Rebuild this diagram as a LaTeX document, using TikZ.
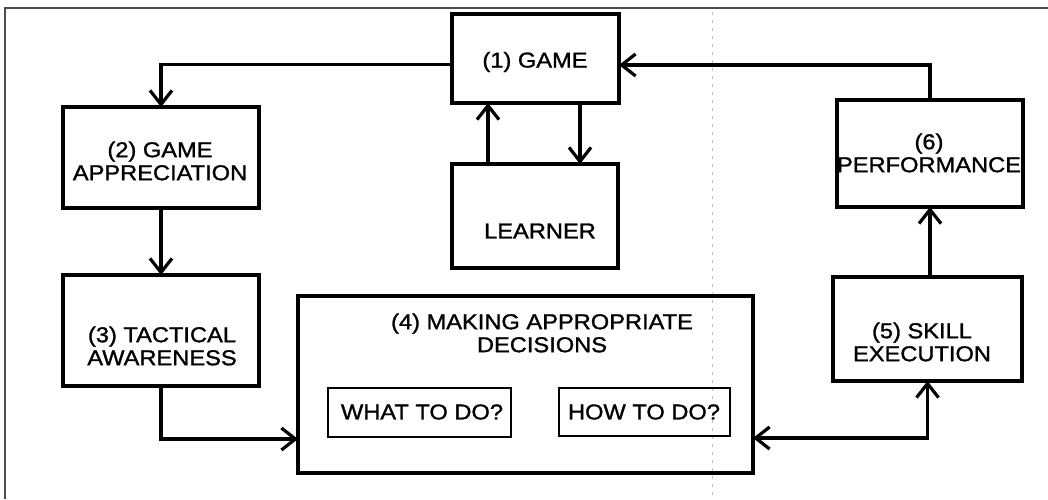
\documentclass[tikz,border=0pt]{standalone}
\usepackage{fontspec}
\setmainfont{Liberation Sans}[FakeStretch=1.1,FakeBold=1.3]
\usetikzlibrary{arrows.meta,calc}
\begin{document}
\begin{tikzpicture}[x=1pt,y=-1pt,
  box/.style={draw, line width=3.2pt, inner sep=0pt, outer sep=0pt},
  sbox/.style={draw, line width=2.8pt, inner sep=0pt, outer sep=0pt},
  txt/.style={font=\fontsize{21.5}{23}\selectfont, align=center, inner sep=0pt},
  arr/.style={line width=3.2pt, -{Straight Barb[length=14pt,width=22pt]}},
  darr/.style={line width=3.2pt, {Straight Barb[length=14pt,width=22pt]}-{Straight Barb[length=14pt,width=22pt]}}]
\useasboundingbox (0,0) rectangle (1048,499);
% frame
\draw[line width=1.4pt, black!70] (5,499) -- (5,8) -- (1048,8);
\draw[line width=0.6pt, black!25, dash pattern=on 3pt off 5pt] (712,12) -- (712,499);
% boxes
\node[box, minimum width=167pt, minimum height=89pt] (g1) at (535.5,58.5) {};
\node[box, minimum width=166pt, minimum height=104pt] (L) at (535,216) {};
\node[box, minimum width=196pt, minimum height=101pt] (g2) at (161,157.5) {};
\node[box, minimum width=196pt, minimum height=111pt] (g3) at (161,330.5) {};
\node[box, minimum width=455pt, minimum height=177pt] (g4) at (525.5,384.5) {};
\node[sbox, minimum width=183pt, minimum height=49pt] (what) at (419.5,412.5) {};
\node[sbox, minimum width=171pt, minimum height=48pt] (how) at (644.5,412) {};
\node[box, minimum width=189pt, minimum height=104pt] (g5) at (927.5,329) {};
\node[box, minimum width=186pt, minimum height=107pt] (g6) at (930,153.5) {};
% texts
\node[txt] (t1) at (535,62) {(1) GAME};
\node[txt] (tL) at (540,231) {LEARNER};
\node[txt] (t2) at (160,161) {(2) GAME\\APPRECIATION};
\node[txt] (t3) at (162,346) {(3) TACTICAL\\AWARENESS};
\node[txt] (t4) at (542,333) {(4) MAKING APPROPRIATE\\DECISIONS};
\node[txt] (tw) at (422,412) {WHAT TO DO?};
\node[txt] (th) at (644,412) {HOW TO DO?};
\node[txt] (t5) at (922,342) {(5) SKILL\\EXECUTION};
\node[txt] (t6) at (929,153) {(6)\\PERFORMANCE};
% connectors
\draw[arr] ([yshift=-6pt]g1.west) -| (g2.north);
\draw[arr] (g2.south) -- (g3.north);
\draw[arr] (g3.south) |- ([yshift=-54.5pt]g4.west);
\draw[darr] ([yshift=-53.5pt]g4.east) -| (g5.south);
\draw[arr] (g5.north -| g6.south) -- (g6.south);
\draw[arr] (g6.north) |- ([yshift=-6.5pt]g1.east);
\draw[arr] ([xshift=-47pt]L.north) -- ([xshift=-47.5pt]g1.south);
\draw[arr] ([xshift=44.5pt]g1.south) -- ([xshift=45pt]L.north);
\end{tikzpicture}
\end{document}
